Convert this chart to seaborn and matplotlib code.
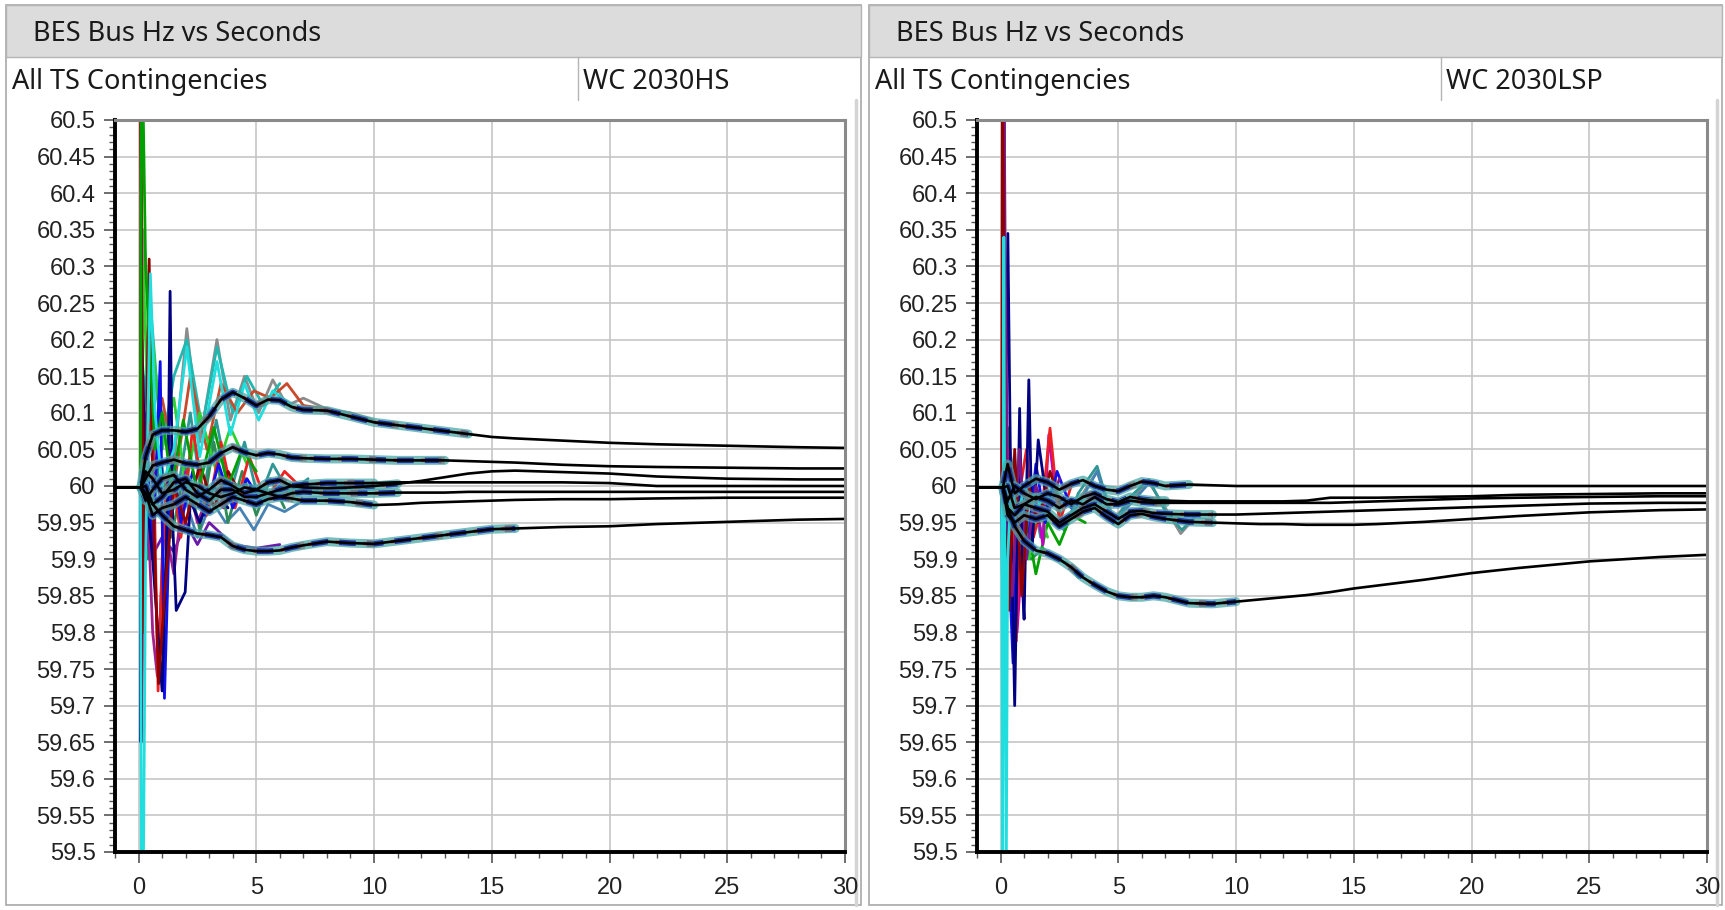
import numpy as np
import pandas as pd
import matplotlib.pyplot as plt
import seaborn as sns
from matplotlib.patches import Rectangle
from matplotlib.lines import Line2D
from matplotlib.ticker import MultipleLocator

W, H = 1725, 910

sns.set_theme(style="white")
plt.rcParams['font.family'] = ['Liberation Sans', 'DejaVu Sans']

# ---- data ----
panel_titles = ["BES Bus Hz vs Seconds", "BES Bus Hz vs Seconds"]
panel_subtitles = ["All TS Contingencies", "All TS Contingencies"]
cases = ["WC 2030HS", "WC 2030LSP"]

y_ticks = [59.5, 59.55, 59.6, 59.65, 59.7, 59.75, 59.8, 59.85, 59.9, 59.95,
           60.0, 60.05, 60.1, 60.15, 60.2, 60.25, 60.3, 60.35, 60.4, 60.45, 60.5]
y_labels = ["59.5", "59.55", "59.6", "59.65", "59.7", "59.75", "59.8", "59.85", "59.9", "59.95",
            "60", "60.05", "60.1", "60.15", "60.2", "60.25", "60.3", "60.35", "60.4", "60.45", "60.5"]
x_ticks = [0, 5, 10, 15, 20, 25, 30]

# common time grid of the settled (black) traces, seconds
t_grid = [-1, 0.1, 0.3, 0.6, 1.0, 1.5, 2.0, 2.5, 3.0, 3.5, 4.0, 4.5, 5.0, 5.5, 6.0, 6.5,
          7.0, 8.0, 9.0, 10, 11, 12, 13, 14, 15, 16, 18, 20, 22, 25, 28, 30]

# 2030HS black traces
hs_a = [59.998, 59.998, 60.04, 60.07, 60.076, 60.076, 60.074, 60.078, 60.095, 60.118, 60.128, 60.12,
        60.11, 60.118, 60.117, 60.108, 60.104, 60.103, 60.095, 60.087, 60.083, 60.079, 60.075, 60.071,
        60.067, 60.065, 60.062, 60.059, 60.057, 60.055, 60.053, 60.052]
hs_b = [59.998, 59.998, 60.01, 60.028, 60.032, 60.036, 60.031, 60.029, 60.032, 60.045, 60.053, 60.046,
        60.042, 60.045, 60.043, 60.039, 60.038, 60.037, 60.037, 60.036, 60.035, 60.035, 60.035, 60.034,
        60.033, 60.032, 60.029, 60.027, 60.026, 60.025, 60.024, 60.024]
hs_c = [59.998, 59.998, 60.02, 60.01, 59.99, 59.995, 60.005, 60.0, 59.99, 59.985, 59.99, 59.998,
        59.995, 59.99, 59.995, 60.0, 59.998, 59.997, 59.998, 60.0, 60.003, 60.007, 60.012, 60.017,
        60.02, 60.021, 60.019, 60.017, 60.013, 60.01, 60.009, 60.009]
hs_d = [59.998, 59.998, 59.98, 59.995, 60.01, 60.015, 59.995, 59.985, 59.995, 60.008, 60.0, 59.99,
        59.995, 60.005, 60.008, 60.0, 60.002, 60.004, 60.004, 60.004, 60.005, 60.005, 60.005, 60.005,
        60.005, 60.005, 60.005, 60.004, 60.0, 60.0, 60.0, 60.0]
hs_e = [59.998, 59.998, 60.0, 59.975, 59.985, 60.005, 60.01, 59.99, 59.98, 59.995, 59.995, 59.985,
        59.985, 59.99, 59.985, 59.99, 59.992, 59.99, 59.99, 59.99, 59.991, 59.991, 59.991, 59.992,
        59.992, 59.992, 59.992, 59.992, 59.992, 59.992, 59.992, 59.992]
hs_f = [59.998, 59.998, 59.99, 59.96, 59.97, 59.975, 59.985, 59.975, 59.965, 59.975, 59.985, 59.98,
        59.975, 59.982, 59.985, 59.983, 59.98, 59.98, 59.978, 59.974, 59.975, 59.977, 59.978, 59.979,
        59.98, 59.981, 59.982, 59.982, 59.983, 59.984, 59.984, 59.984]
hs_g = [59.998, 59.998, 59.99, 59.975, 59.96, 59.945, 59.94, 59.935, 59.933, 59.93, 59.918, 59.913,
        59.911, 59.911, 59.912, 59.916, 59.919, 59.924, 59.922, 59.921, 59.925, 59.929, 59.933, 59.937,
        59.941, 59.942, 59.944, 59.945, 59.948, 59.951, 59.954, 59.955]

# 2030LSP black traces
lsp_p = [59.998, 59.998, 60.03, 59.99, 60.0, 60.01, 60.005, 59.995, 60.003, 60.008, 60.0, 59.995,
         59.993, 60.0, 60.006, 60.004, 60.0, 60.002, 60.001, 60.0, 60.0, 60.0, 60.0, 60.0,
         60.0, 60.0, 60.0, 60.0, 60.0, 60.0, 60.0, 60.0]
lsp_h1 = [59.998, 59.998, 59.98, 60.0, 59.99, 59.982, 59.99, 59.985, 59.975, 59.985, 59.99, 59.982,
          59.978, 59.985, 59.982, 59.98, 59.98, 59.979, 59.979, 59.979, 59.979, 59.979, 59.98, 59.984,
          59.984, 59.984, 59.985, 59.986, 59.988, 59.989, 59.99, 59.99]
lsp_h2 = [59.998, 59.998, 60.0, 59.97, 59.975, 59.985, 59.98, 59.97, 59.98, 59.975, 59.985, 59.975,
          59.975, 59.98, 59.978, 59.977, 59.977, 59.977, 59.977, 59.977, 59.977, 59.977, 59.977, 59.977,
          59.978, 59.979, 59.981, 59.983, 59.984, 59.985, 59.986, 59.986]
lsp_i = [59.998, 59.998, 59.97, 59.96, 59.975, 59.97, 59.965, 59.95, 59.96, 59.97, 59.975, 59.965,
         59.955, 59.965, 59.966, 59.963, 59.962, 59.961, 59.961, 59.961, 59.962, 59.963, 59.964, 59.965,
         59.966, 59.967, 59.969, 59.971, 59.973, 59.976, 59.977, 59.977]
lsp_j = [59.998, 59.998, 59.96, 59.95, 59.96, 59.955, 59.96, 59.945, 59.955, 59.965, 59.97, 59.958,
         59.948, 59.96, 59.962, 59.958, 59.955, 59.951, 59.95, 59.949, 59.948, 59.948, 59.947, 59.947,
         59.947, 59.948, 59.951, 59.955, 59.959, 59.964, 59.967, 59.968]
lsp_g = [59.998, 59.998, 59.97, 59.945, 59.925, 59.912, 59.908, 59.9, 59.889, 59.875, 59.865, 59.856,
         59.85, 59.848, 59.848, 59.85, 59.848, 59.84, 59.839, 59.842, 59.845, 59.848, 59.851, 59.855,
         59.86, 59.864, 59.872, 59.881, 59.888, 59.897, 59.903, 59.906]

# coloured transient traces (time, Hz)
hs_gray_t = [0.1, 0.2, 0.5, 0.8, 1.2, 1.5, 2.05, 2.6, 3.33, 3.9, 4.5, 5.1, 5.7, 6.3, 7.0, 8.0, 9.0, 10.0]
hs_gray_v = [59.998, 60.35, 60.2, 60.12, 60.08, 60.03, 60.215, 60.06, 60.2, 60.09, 60.15, 60.1, 60.145, 60.11, 60.12, 60.105, 60.1, 60.09]
hs_cyan_t = [0.08, 0.12, 0.2, 0.3, 0.5, 0.7, 1.0, 1.5, 2.05, 2.6, 3.33, 3.9, 4.5, 5.1, 5.7, 6.5]
hs_cyan_v = [59.998, 59.45, 59.45, 59.9, 60.29, 60.1, 60.0, 60.05, 60.19, 60.04, 60.17, 60.07, 60.14, 60.09, 60.13, 60.11]
hs_green_t = [0.08, 0.12, 0.18, 0.3, 0.45, 0.7, 1.0, 1.4, 1.9, 2.5, 3.2, 3.8, 4.4, 5.0]
hs_green_v = [59.998, 60.55, 60.55, 60.3, 60.2, 60.05, 60.1, 60.0, 60.09, 59.99, 60.08, 60.0, 60.05, 60.02]
hs_dred_t = [0.08, 0.1, 0.13, 0.2, 0.45, 0.6, 0.85, 1.1, 1.5, 2.0, 2.6, 3.2, 3.8, 4.5]
hs_dred_v = [59.998, 60.55, 60.3, 59.8, 60.31, 60.0, 59.73, 59.85, 60.0, 59.95, 60.03, 59.97, 60.02, 59.98]
hs_navy_t = [0.08, 0.1, 0.14, 0.3, 0.6, 1.0, 1.25, 1.34, 1.45, 1.6, 1.98, 2.2, 2.6, 3.2, 3.8]
hs_navy_v = [59.998, 59.65, 60.2, 60.0, 59.9, 59.72, 60.0, 60.266, 59.95, 59.83, 59.855, 59.98, 59.95, 60.0, 59.97]
hs_blue_t = [0.08, 0.15, 0.3, 0.6, 0.92, 1.1, 1.4, 1.8, 2.3, 2.8, 3.4, 4.0, 4.6, 5.2, 6.0]
hs_blue_v = [59.998, 59.8, 60.1, 59.9, 60.17, 59.71, 60.05, 59.95, 60.02, 59.96, 60.03, 59.97, 60.01, 59.98, 60.0]
hs_red_t = [0.08, 0.12, 0.3, 0.6, 0.83, 1.0, 1.3, 1.8, 2.3, 2.9, 3.5, 4.1, 4.7, 5.4, 6.2, 7.0]
hs_red_v = [59.998, 59.65, 60.05, 60.1, 59.72, 59.9, 60.05, 59.93, 60.08, 59.96, 60.06, 59.97, 60.04, 59.98, 60.02, 59.995]
hs_mag_t = [0.1, 0.3, 0.6, 0.8, 1.1, 1.5, 2.0, 2.5, 3.0, 3.6]
hs_mag_v = [59.998, 60.05, 59.8, 59.74, 59.95, 59.88, 60.02, 59.95, 59.99, 59.97]
hs_teal_t = [0.1, 0.3, 0.7, 1.2, 1.7, 2.2, 2.7, 3.3, 3.9, 4.5, 5.1, 5.7, 6.4, 7.2]
hs_teal_v = [59.998, 60.15, 60.03, 60.08, 60.0, 60.1, 59.98, 60.09, 59.99, 60.06, 59.98, 60.03, 59.99, 60.01]
hs_sea_t = [0.1, 0.4, 0.9, 1.4, 2.0, 2.6, 3.2, 3.8, 4.4, 5.0, 5.6, 6.2]
hs_sea_v = [59.998, 59.9, 60.05, 59.93, 60.03, 59.94, 60.06, 59.95, 60.02, 59.96, 60.01, 59.97]
hs_purp_t = [0.1, 0.5, 1.0, 1.5, 2.0, 2.5, 3.0, 4.0, 5.0, 6.0]
hs_purp_v = [59.998, 59.9, 59.93, 59.91, 59.95, 59.92, 59.95, 59.92, 59.915, 59.92]
hs_lime_t = [0.1, 0.2, 0.35, 0.6, 1.0, 1.5, 2.0, 2.6, 3.3, 3.9, 4.6]
hs_lime_v = [59.998, 60.3, 60.15, 60.2, 60.05, 60.12, 60.0, 60.1, 60.02, 60.08, 60.03]
hs_rust_t = [0.5, 1.0, 1.6, 2.2, 2.9, 3.5, 4.2, 4.9, 5.6, 6.3, 7.0, 8.0]
hs_rust_v = [60.05, 60.12, 60.02, 60.15, 60.05, 60.14, 60.1, 60.13, 60.12, 60.14, 60.11, 60.105]
hs_steel_t = [0.3, 0.8, 1.3, 1.9, 2.5, 3.1, 3.7, 4.3, 4.9, 5.5, 6.2, 7.0]
hs_steel_v = [59.95, 60.02, 59.96, 59.99, 59.93, 59.98, 59.95, 59.97, 59.94, 59.975, 59.965, 59.98]
hs_aqua_t = [0.2, 0.5, 1.0, 1.5, 2.05, 2.7, 3.33, 4.0, 4.6, 5.3, 6.0]
hs_aqua_v = [60.1, 60.25, 60.05, 60.15, 60.2, 60.08, 60.19, 60.1, 60.15, 60.11, 60.14]

lsp_dred_t = [0.05, 0.08, 0.12, 0.2, 0.35, 0.6, 0.9, 1.2, 1.6, 2.1, 2.6]
lsp_dred_v = [59.998, 60.55, 60.4, 59.95, 59.83, 60.05, 59.85, 60.0, 59.95, 60.02, 59.97]
lsp_purp_t = [0.05, 0.15, 0.2, 0.3, 0.5, 0.8, 1.1, 1.5, 2.0, 2.5]
lsp_purp_v = [59.998, 60.55, 60.3, 60.0, 59.85, 60.05, 59.9, 60.0, 59.96, 60.01]
lsp_cyan_t = [0.05, 0.08, 0.14, 0.18, 0.24, 0.3, 0.45, 0.7, 1.0, 1.5, 2.0]
lsp_cyan_v = [59.998, 59.45, 60.34, 59.9, 59.45, 59.9, 60.0, 59.95, 60.0, 59.97, 59.99]
lsp_navy_t = [0.05, 0.1, 0.31, 0.45, 0.6, 0.81, 0.95, 1.0, 1.2, 1.35, 1.6, 2.0]
lsp_navy_v = [59.998, 59.776, 60.345, 59.95, 59.7, 60.106, 59.85, 59.818, 60.145, 59.92, 60.063, 59.97]
lsp_blue_t = [0.05, 0.2, 0.35, 0.53, 0.8, 1.1, 1.5, 1.9, 2.4, 3.0]
lsp_blue_v = [59.998, 60.1, 59.9, 59.758, 60.04, 59.9, 60.03, 59.95, 60.02, 59.97]
lsp_red_t = [0.05, 0.12, 0.3, 0.5, 0.67, 0.85, 1.1, 1.4, 1.8, 2.1, 2.5, 3.0]
lsp_red_v = [59.998, 59.9, 60.05, 60.0, 59.788, 60.0, 60.05, 59.93, 59.98, 60.079, 59.95, 60.0]
lsp_mag_t = [0.1, 0.4, 0.7, 1.0, 1.4, 1.8, 2.05, 2.4]
lsp_mag_v = [59.998, 59.95, 59.8, 59.95, 60.0, 59.92, 60.07, 59.97]
lsp_teal_t = [0.1, 0.4, 0.8, 1.2, 1.7, 2.2, 2.74, 3.3, 4.1, 4.8, 5.5, 6.3, 7.0, 7.7, 8.3]
lsp_teal_v = [59.998, 60.05, 59.95, 60.02, 59.93, 60.0, 59.941, 59.99, 60.027, 59.948, 59.985, 60.009, 59.965, 59.94, 59.96]
lsp_green_t = [0.1, 0.3, 0.6, 1.0, 1.5, 2.0, 2.5, 3.0, 3.6]
lsp_green_v = [59.998, 60.08, 59.9, 59.97, 59.88, 59.95, 59.92, 59.96, 59.95]
lsp_sea_t = [0.3, 0.8, 1.3, 1.8, 2.3, 2.8, 3.3]
lsp_sea_v = [59.95, 59.92, 59.9, 59.915, 59.9, 59.895, 59.875]
lsp_gray_t = [0.1, 0.5, 1.0, 1.5, 2.1, 2.74, 3.4, 4.1, 4.8, 5.5, 6.3, 7.0, 7.65, 8.2]
lsp_gray_v = [59.998, 60.0, 59.97, 60.02, 59.99, 59.945, 59.985, 60.02, 59.955, 59.98, 60.005, 59.97, 59.935, 59.955]
lsp_lime_t = [0.1, 0.25, 0.5, 0.8, 1.2, 1.6, 2.0]
lsp_lime_v = [59.998, 60.05, 59.88, 59.95, 59.9, 59.97, 59.93]
lsp_steel_t = [0.2, 0.6, 1.0, 1.5, 2.0, 2.7, 3.4, 4.1, 4.8, 5.5, 6.2]
lsp_steel_v = [59.95, 60.0, 59.93, 59.99, 59.96, 59.94, 59.98, 60.02, 59.95, 59.975, 60.0]

hs_black = [hs_a, hs_b, hs_c, hs_d, hs_e, hs_f, hs_g]
lsp_black = [lsp_p, lsp_h1, lsp_h2, lsp_i, lsp_j, lsp_g]

hs_colored = [(hs_gray_t, hs_gray_v, '#8c8c8c'), (hs_aqua_t, hs_aqua_v, '#20b8b0'),
              (hs_rust_t, hs_rust_v, '#c84a2a'), (hs_teal_t, hs_teal_v, '#2f9696'),
              (hs_steel_t, hs_steel_v, '#4682b4'), (hs_sea_t, hs_sea_v, '#2e8b57'),
              (hs_purp_t, hs_purp_v, '#6a1aa8'), (hs_lime_t, hs_lime_v, '#30d030'),
              (hs_mag_t, hs_mag_v, '#a0208f'), (hs_red_t, hs_red_v, '#ee2020'),
              (hs_blue_t, hs_blue_v, '#1010ee'), (hs_navy_t, hs_navy_v, '#000080'),
              (hs_dred_t, hs_dred_v, '#900000'), (hs_green_t, hs_green_v, '#00a000'),
              (hs_cyan_t, hs_cyan_v, '#20dede')]
lsp_colored = [(lsp_gray_t, lsp_gray_v, '#8c8c8c'), (lsp_teal_t, lsp_teal_v, '#2f9696'),
               (lsp_steel_t, lsp_steel_v, '#4682b4'), (lsp_sea_t, lsp_sea_v, '#2e8b57'),
               (lsp_green_t, lsp_green_v, '#00a000'), (lsp_lime_t, lsp_lime_v, '#30d030'),
               (lsp_mag_t, lsp_mag_v, '#c000c0'), (lsp_red_t, lsp_red_v, '#ee2020'),
               (lsp_blue_t, lsp_blue_v, '#1010ee'), (lsp_navy_t, lsp_navy_v, '#000080'),
               (lsp_purp_t, lsp_purp_v, '#7a1a8a'), (lsp_dred_t, lsp_dred_v, '#900000'),
               (lsp_cyan_t, lsp_cyan_v, '#20dede')]

# how far (index into t_grid) the crowd of coloured cases hugs each black trace
hs_halo_end = [24, 23, 21, 20, 21, 20, 26]
lsp_halo_end = [18, 17, 17, 19, 19, 20]

fig = plt.figure(figsize=(W / 100, H / 100), dpi=100)
fig.patch.set_facecolor('white')


def box(x0, y0, x1, y1, fc, ec, lw=1.0):
    fig.add_artist(Rectangle((x0 / W, 1 - y1 / H), (x1 - x0) / W, (y1 - y0) / H,
                             transform=fig.transFigure, facecolor=fc, edgecolor=ec, lw=lw,
                             zorder=-3))


def vline(x, y0, y1, color, lw):
    fig.add_artist(Line2D([x / W, x / W], [1 - y0 / H, 1 - y1 / H],
                          transform=fig.transFigure, color=color, lw=lw, zorder=-2))


def trace(ax, t, v, color, lw, z, alpha=1.0, ls='-'):
    sns.lineplot(x=t, y=v, ax=ax, color=color, lw=lw, sort=False, estimator=None,
                 zorder=z, alpha=alpha, legend=False, linestyle=ls)


panels = [
    dict(x0=6, x1=861, div=578, ax_left=115, black=hs_black, colored=hs_colored, halo=hs_halo_end),
    dict(x0=869, x1=1722, div=1441, ax_left=977, black=lsp_black, colored=lsp_colored, halo=lsp_halo_end),
]

head_font = ['Noto Sans', 'DejaVu Sans']

for i, p in enumerate(panels):
    x0, x1 = p['x0'], p['x1']
    box(x0, 5, x1, 905, 'white', '#a8a8a8', 1.2)
    box(x0, 5, x1, 57, '#dcdcdc', '#b4b4b4', 1.0)
    vline(p['div'], 57, 100, '#b4b4b4', 1.0)
    vline(x1 - 5, 100, 905, '#d4d4d4', 2.5)
    fig.text((x0 + 27) / W, 1 - 34 / H, panel_titles[i], fontsize=19.5, va='center',
             family=head_font, color='#1a1a1a')
    fig.text((x0 + 6) / W, 1 - 82 / H, panel_subtitles[i], fontsize=19.5, va='center',
             family=head_font, color='#1a1a1a')
    fig.text((p['div'] + 5) / W, 1 - 82 / H, cases[i], fontsize=19.5, va='center',
             family=head_font, color='#1a1a1a')

    ax = fig.add_axes([p['ax_left'] / W, 1 - 852 / H, 730 / W, 732 / H])
    ax.set_facecolor('white')

    # coloured transients
    for t, v, c in p['colored']:
        trace(ax, t, v, c, 2.0, 2)
    # crowd of overlapping cases around each settled trace
    for k, v in enumerate(p['black']):
        he = p['halo'][k]
        tt, vv = t_grid[1:he], v[1:he]
        trace(ax, tt, vv, '#4aa8a8', 6.5, 3, alpha=0.75)
        trace(ax, tt, vv, '#1a2aa0', 4.0, 3, alpha=0.9, ls=(0, (3, 2)))
        trace(ax, tt, vv, '#d03030', 2.5, 3, alpha=0.9, ls=(1, (1, 7)))
        trace(ax, tt, vv, '#7a7a7a', 5.0, 3, alpha=0.7, ls=(4, (1, 9)))
    # settled black traces
    for v in p['black']:
        trace(ax, t_grid, v, 'black', 1.9, 4)

    ax.set_xlim(-1, 30)
    ax.set_ylim(59.5, 60.5)
    ax.set_xticks(x_ticks)
    ax.set_xticklabels([str(x) for x in x_ticks])
    ax.set_yticks(y_ticks)
    ax.set_yticklabels(y_labels)
    ax.xaxis.set_minor_locator(MultipleLocator(1))
    ax.yaxis.set_minor_locator(MultipleLocator(0.01))
    ax.set_xlabel("")
    ax.set_ylabel("")
    ax.grid(True, which='major', color='#c6c6c6', lw=1.2)
    ax.set_axisbelow(True)
    ax.tick_params(which='major', direction='out', length=8, width=1.2, color='#555555',
                   labelsize=17, labelcolor='#222222', left=True, bottom=True)
    ax.tick_params(which='minor', direction='out', length=4, width=1.0, color='#555555',
                   left=True, bottom=True)
    ax.tick_params(axis='x', pad=10)
    ax.tick_params(axis='y', pad=6)
    for side in ['left', 'bottom']:
        ax.spines[side].set_color('black')
        ax.spines[side].set_linewidth(2.8)
    for side in ['top', 'right']:
        ax.spines[side].set_color('#8a8a8a')
        ax.spines[side].set_linewidth(2.2)
    for s in ax.spines.values():
        s.set_zorder(6)

fig.savefig("out.png", dpi=100)
